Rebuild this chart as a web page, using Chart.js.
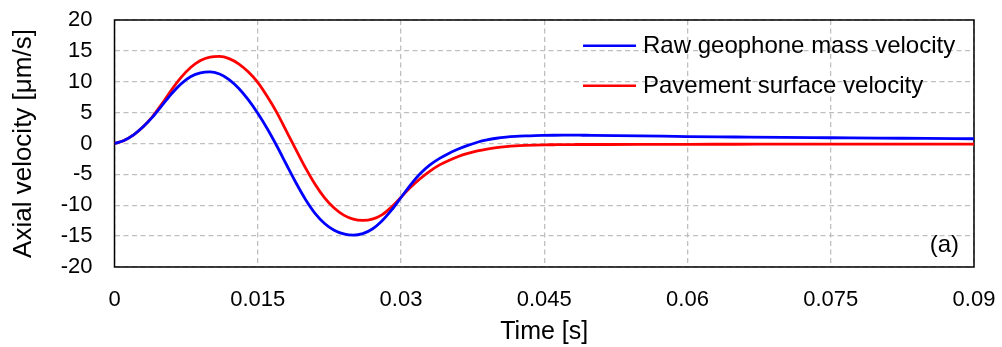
<!DOCTYPE html>
<html>
<head>
<meta charset="utf-8">
<script src="https://cdn.jsdelivr.net/npm/chart.js@4.4.0/dist/chart.umd.min.js"></script>
<style>
html,body{margin:0;padding:0;background:#fff;}
#wrap{width:1002px;height:347px;position:relative;}
</style>
</head>
<body>
<div id="wrap"><canvas id="c" width="1002" height="347"></canvas></div>
<script>
// Time [s]
const timeValues = [0,0.001,0.002,0.003,0.004,0.005,0.006,0.007,0.008,0.009,0.010,0.011,0.012,0.013,0.014,0.015,0.016,0.017,0.018,0.019,0.020,0.021,0.022,0.023,0.024,0.025,0.026,0.027,0.028,0.029,0.030,0.031,0.032,0.033,0.034,0.035,0.036,0.037,0.038,0.039,0.040,0.041,0.042,0.043,0.044,0.045,0.046,0.047,0.048,0.049,0.050,0.055,0.060,0.065,0.070,0.075,0.080,0.085,0.090];
// Raw geophone mass velocity [µm/s]
const rawGeophone = [0,0.5,1.4,2.7,4.3,6.2,8.1,9.7,10.85,11.45,11.6,11.25,10.35,8.95,7.1,4.9,2.4,-0.4,-3.4,-6.35,-9.05,-11.3,-12.95,-14.05,-14.65,-14.85,-14.6,-13.85,-12.55,-10.8,-8.75,-6.7,-4.9,-3.5,-2.45,-1.6,-0.9,-0.3,0.2,0.58,0.85,1.03,1.15,1.23,1.29,1.32,1.34,1.35,1.35,1.34,1.33,1.25,1.12,1.05,0.98,0.93,0.88,0.82,0.77];
// Pavement surface velocity [µm/s]
const pavementSurface = [0,0.5,1.4,2.7,4.4,6.5,8.75,10.75,12.35,13.45,14.0,14.1,13.75,12.9,11.6,9.9,7.6,5.0,2.0,-1.0,-3.95,-6.6,-8.8,-10.45,-11.6,-12.25,-12.45,-12.25,-11.55,-10.3,-8.7,-7.1,-5.7,-4.5,-3.5,-2.75,-2.1,-1.6,-1.2,-0.9,-0.68,-0.52,-0.4,-0.32,-0.26,-0.22,-0.2,-0.18,-0.17,-0.16,-0.16,-0.15,-0.13,-0.12,-0.11,-0.1,-0.1,-0.1,-0.1];
const seriesLabels = ['Raw geophone mass velocity','Pavement surface velocity'];
const xTicks = [0,0.015,0.03,0.045,0.06,0.075,0.09];
const yTicks = [-20,-15,-10,-5,0,5,10,15,20];
const panelLabel = '(a)';

const FONT = "'Liberation Sans', Arial, sans-serif";

const toPts = (ys) => timeValues.map((t,i)=>({x:t,y:ys[i]}));

const framePlugin = {
  id:'frame',
  beforeDatasetsDraw(chart){
    const {ctx, chartArea:a} = chart;
    ctx.save();
    ctx.strokeStyle = '#000';
    ctx.lineWidth = 1.5;
    ctx.strokeRect(a.left, a.top, a.right-a.left, a.bottom-a.top);
    ctx.restore();
  },
  afterDatasetsDraw(chart){
    const {ctx, chartArea:a} = chart;
    ctx.save();
    ctx.font = '24px ' + FONT;
    ctx.textBaseline = 'middle';
    ctx.textAlign = 'left';
    const ys = [45.7, 85.7];
    chart.data.datasets.forEach((ds,i)=>{
      ctx.strokeStyle = ds.borderColor;
      ctx.lineWidth = 2.5;
      ctx.beginPath();
      ctx.moveTo(583, ys[i]);
      ctx.lineTo(636, ys[i]);
      ctx.stroke();
      ctx.fillStyle = '#000';
      ctx.fillText(ds.label, 643, ys[i]+1);
    });
    ctx.font = '24px ' + FONT;
    ctx.textAlign = 'right';
    ctx.fillText(panelLabel, a.right-15, 245);
    ctx.restore();
  }
};

function zeroPad(axis){ axis.paddingLeft = 0; axis.paddingRight = 0; axis.paddingTop = 0; axis.paddingBottom = 0; }

new Chart(document.getElementById('c'), {
  type:'line',
  data:{
    datasets:[
      {label:seriesLabels[0], data:toPts(rawGeophone), borderColor:'#0000FF', borderWidth:2.8, pointRadius:0, cubicInterpolationMode:'monotone', fill:false},
      {label:seriesLabels[1], data:toPts(pavementSurface), borderColor:'#FF0000', borderWidth:2.8, pointRadius:0, cubicInterpolationMode:'monotone', fill:false}
    ]
  },
  options:{
    responsive:false,
    animation:false,
    devicePixelRatio:1,
    layout:{padding:{left:0,right:28,top:20,bottom:0}},
    plugins:{legend:{display:false}, tooltip:{enabled:false}},
    scales:{
      x:{
        type:'linear', min:0, max:0.09,
        afterBuildTicks(axis){ axis.ticks = xTicks.map(v=>({value:v})); },
        afterFit(axis){ axis.height = 80; zeroPad(axis); },
        ticks:{ padding:20, color:'#000', font:{family:FONT,size:22}, maxRotation:0, autoSkip:false,
          callback:(v)=>String(v) },
        grid:{ color:'#bfbfbf', lineWidth:1.3, drawTicks:false, tickLength:0 },
        border:{ display:false, dash:[5,3.5] },
        title:{ display:true, text:'Time [s]', color:'#000', font:{family:FONT,size:25}, padding:{top:0,bottom:0} }
      },
      y:{
        type:'linear', min:-20, max:20,
        afterBuildTicks(axis){ axis.ticks = yTicks.map(v=>({value:v})); },
        afterFit(axis){ axis.width = 114.5; zeroPad(axis); },
        ticks:{ padding:22, color:'#000', font:{family:FONT,size:22}, autoSkip:false },
        grid:{ color:'#bfbfbf', lineWidth:1.3, drawTicks:false, tickLength:0 },
        border:{ display:false, dash:[5,3.5] },
        title:{ display:true, text:'Axial velocity [μm/s]', color:'#000', font:{family:FONT,size:26}, padding:{top:8,bottom:0} }
      }
    }
  },
  plugins:[framePlugin]
});
</script>
</body>
</html>
